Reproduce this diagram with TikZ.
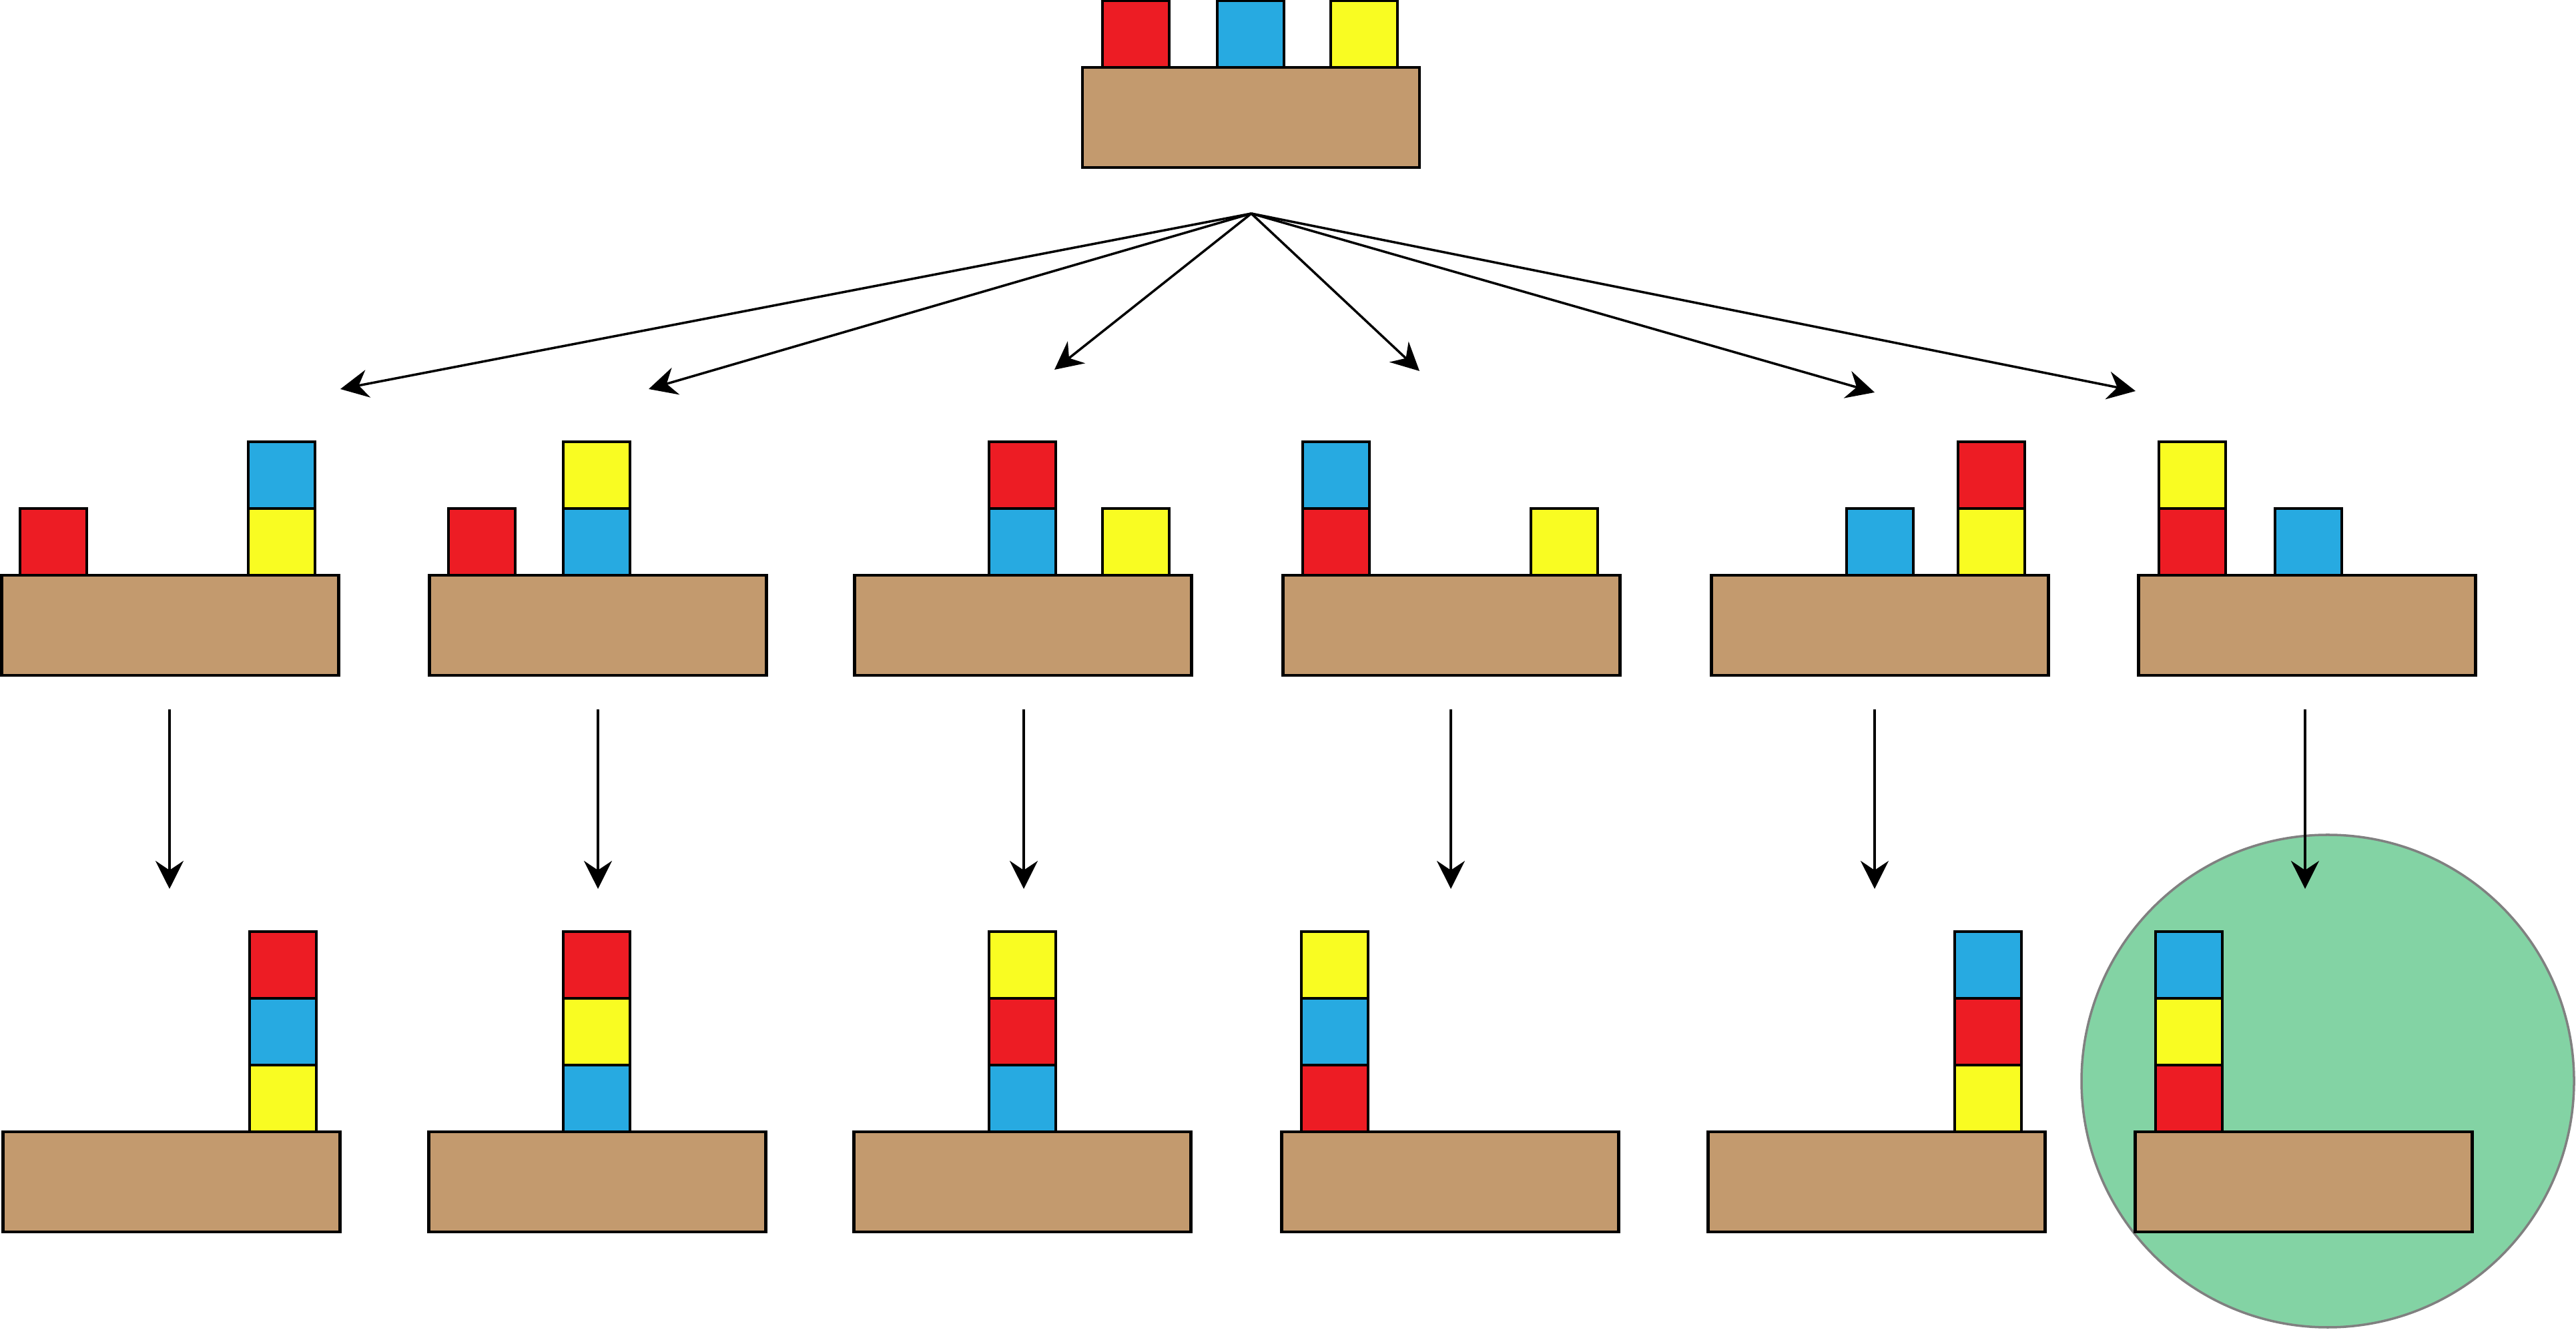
\documentclass[tikz,border=0pt]{standalone}
\usetikzlibrary{arrows.meta}
\definecolor{bred}{HTML}{ED1C24}
\definecolor{bblue}{HTML}{27AAE1}
\definecolor{byellow}{HTML}{F9FC22}
\definecolor{btable}{HTML}{C39A6E}
\definecolor{bgoal}{HTML}{83D3A4}
\begin{document}
\begin{tikzpicture}[
        tablebox/.style={draw=black,line width=1.2pt,fill=btable,minimum width=5.05cm,
            minimum height=1.5cm,inner sep=0pt,outer sep=0pt,anchor=north},
        cube/.style={draw=black,line width=1.2pt,minimum size=1cm,inner sep=0pt,
            outer sep=0pt,anchor=south west},
        ontop/.style={cube,anchor=south},
        move/.style={-{Stealth[length=4.2mm,width=4.2mm,inset=1.4mm]},line width=1pt}]
\useasboundingbox (0,0) rectangle (38.6,19.92);

% goal state
\node[circle,draw=gray,line width=1pt,fill=bgoal,minimum size=7.38cm] (goal) at (34.88,3.72) {};

% start state
\node[tablebox] (s) at (18.745,18.91) {};
\node[cube,fill=bred] (sr) at (16.52,18.91) {};
\node[cube,fill=bblue] (sb) at (18.24,18.91) {};
\node[cube,fill=byellow] (sy) at (19.94,18.91) {};

% first moves
\node[tablebox] (m1) at (2.55,11.30) {};
\node[cube,fill=bred] (m1r) at (0.30,11.30) {};
\node[cube,fill=byellow] (m1y) at (3.72,11.30) {};
\node[ontop,fill=bblue] (m1b) at (m1y.north) {};

\node[tablebox] (m2) at (8.96,11.30) {};
\node[cube,fill=bred] (m2r) at (6.72,11.30) {};
\node[cube,fill=bblue] (m2b) at (8.44,11.30) {};
\node[ontop,fill=byellow] (m2y) at (m2b.north) {};

\node[tablebox] (m3) at (15.33,11.30) {};
\node[cube,fill=bblue] (m3b) at (14.82,11.30) {};
\node[ontop,fill=bred] (m3r) at (m3b.north) {};
\node[cube,fill=byellow] (m3y) at (16.52,11.30) {};

\node[tablebox] (m4) at (21.75,11.30) {};
\node[cube,fill=bred] (m4r) at (19.52,11.30) {};
\node[ontop,fill=bblue] (m4b) at (m4r.north) {};
\node[cube,fill=byellow] (m4y) at (22.94,11.30) {};

\node[tablebox] (m5) at (28.17,11.30) {};
\node[cube,fill=bblue] (m5b) at (27.67,11.30) {};
\node[cube,fill=byellow] (m5y) at (29.34,11.30) {};
\node[ontop,fill=bred] (m5r) at (m5y.north) {};

\node[tablebox] (m6) at (34.57,11.30) {};
\node[cube,fill=bred] (m6r) at (32.35,11.30) {};
\node[ontop,fill=byellow] (m6y) at (m6r.north) {};
\node[cube,fill=bblue] (m6b) at (34.09,11.30) {};

% second moves
\node[tablebox] (b1) at (2.57,2.96) {};
\node[cube,fill=byellow] (b1y) at (3.74,2.96) {};
\node[ontop,fill=bblue] (b1b) at (b1y.north) {};
\node[ontop,fill=bred] (b1r) at (b1b.north) {};

\node[tablebox] (b2) at (8.95,2.96) {};
\node[cube,fill=bblue] (b2b) at (8.44,2.96) {};
\node[ontop,fill=byellow] (b2y) at (b2b.north) {};
\node[ontop,fill=bred] (b2r) at (b2y.north) {};

\node[tablebox] (b3) at (15.32,2.96) {};
\node[cube,fill=bblue] (b3b) at (14.82,2.96) {};
\node[ontop,fill=bred] (b3r) at (b3b.north) {};
\node[ontop,fill=byellow] (b3y) at (b3r.north) {};

\node[tablebox] (b4) at (21.73,2.96) {};
\node[cube,fill=bred] (b4r) at (19.50,2.96) {};
\node[ontop,fill=bblue] (b4b) at (b4r.north) {};
\node[ontop,fill=byellow] (b4y) at (b4b.north) {};

\node[tablebox] (b5) at (28.12,2.96) {};
\node[cube,fill=byellow] (b5y) at (29.29,2.96) {};
\node[ontop,fill=bred] (b5r) at (b5y.north) {};
\node[ontop,fill=bblue] (b5b) at (b5r.north) {};

\node[tablebox] (b6) at (34.52,2.96) {};
\node[cube,fill=bred] (b6r) at (32.30,2.96) {};
\node[ontop,fill=byellow] (b6y) at (b6r.north) {};
\node[ontop,fill=bblue] (b6b) at (b6y.north) {};

% arrows
\coordinate (fork) at (18.75,16.72);
\foreach \i/\x/\y in {1/5.10/14.09, 2/9.72/14.09, 3/15.80/14.38,
                      4/21.27/14.36, 5/28.09/14.04, 6/32.00/14.06}{
    \coordinate (t\i) at (\x,\y);
    \draw[move] (fork) -- (t\i);
}
\foreach \i/\x in {1/2.54, 2/8.96, 3/15.34, 4/21.74, 5/28.09, 6/34.54}{
    \coordinate (d\i) at (\x,9.29);
    \coordinate (e\i) at (\x,6.60);
    \draw[move] (d\i) -- (e\i);
}

\end{tikzpicture}
\end{document}
